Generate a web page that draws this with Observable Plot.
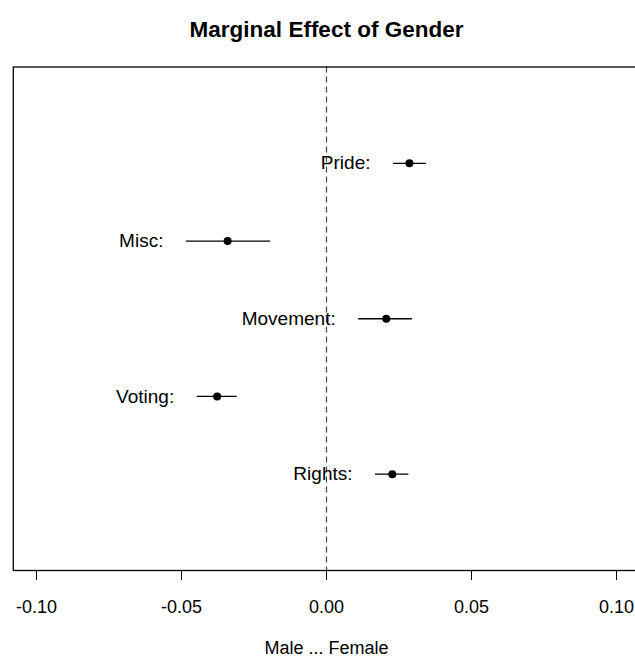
<!DOCTYPE html>
<html>
<head>
<meta charset="utf-8">
<script src="https://cdn.jsdelivr.net/npm/d3@7"></script>
<script src="https://cdn.jsdelivr.net/npm/@observablehq/plot@0.6"></script>
<style>
  html, body { margin: 0; padding: 0; background: #fff; }
  #chart svg { display: block; }
</style>
</head>
<body>
<div id="chart"></div>
<script>
const labels = ["Pride:", "Misc:", "Movement:", "Voting:", "Rights:"];
const positions = [5, 4, 3, 2, 1];
const estimates = [0.0286, -0.0341, 0.0206, -0.0377, 0.0227];
const lower = [0.0231, -0.0483, 0.0111, -0.0446, 0.0169];
const upper = [0.0345, -0.0193, 0.0296, -0.0308, 0.0284];
const xTicks = [-0.10, -0.05, 0.00, 0.05, 0.10];
const title = "Marginal Effect of Gender";
const xLabel = "Male ... Female";

const rows = labels.map((l, i) => ({
  label: l, pos: positions[i], est: estimates[i], lo: lower[i], hi: upper[i]
}));

const font = "'Liberation Sans', Arial, Helvetica, sans-serif";

const chart = Plot.plot({
  width: 635,
  height: 663,
  marginLeft: 12.8,
  marginRight: -4.2,
  marginTop: 66.5,
  marginBottom: 93,
  style: { fontFamily: font, fontSize: "18px", background: "#fff", color: "#000" },
  x: { domain: [-0.108, 0.108] },
  y: { domain: [-0.24, 6.24], axis: null },
  marks: [
    Plot.ruleX([0], { stroke: "#444", strokeWidth: 1.2, strokeDasharray: "6,4" }),
    Plot.ruleY(rows, { y: "pos", x1: "lo", x2: "hi", stroke: "#000", strokeWidth: 1.3 }),
    Plot.dot(rows, { x: "est", y: "pos", r: 4, fill: "#000", stroke: "none" }),
    Plot.text(rows, { x: "lo", y: "pos", text: "label", textAnchor: "end", dx: -23, fontSize: 19, fill: "#000" }),
    Plot.axisX(xTicks, {
      ticks: xTicks, tickSize: 10, tickPadding: 20, fontSize: 18,
      tickFormat: d => d.toFixed(2), label: null, stroke: "#000"
    }),
    Plot.frame({ stroke: "#000", strokeWidth: 1.3 }),
    Plot.text([title], { frameAnchor: "top", dy: -46, fontSize: 22.5, fontWeight: "bold", fill: "#000" }),
    Plot.text([xLabel], { frameAnchor: "bottom", dy: 83, fontSize: 18, fill: "#000" })
  ]
});
document.getElementById("chart").appendChild(chart);
</script>
</body>
</html>
